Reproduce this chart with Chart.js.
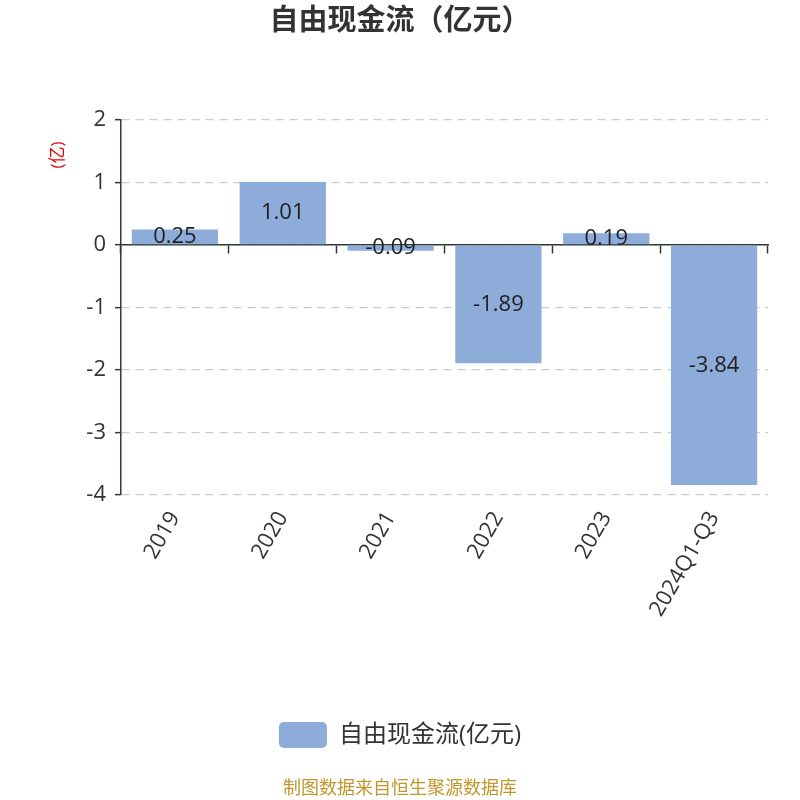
<!DOCTYPE html>
<html>
<head>
<meta charset="utf-8">
<script src="https://cdn.jsdelivr.net/npm/chart.js@4/dist/chart.umd.min.js"></script>
<style>
  html, body { margin: 0; padding: 0; background: #fff; }
  #wrap { width: 800px; height: 800px; }
</style>
</head>
<body>
<div id="wrap"><canvas id="chart" width="800" height="800"></canvas></div>
<script>
// --- Data ---
const categories = ['2019', '2020', '2021', '2022', '2023', '2024Q1-Q3'];
const freeCashFlow = [0.25, 1.01, -0.09, -1.89, 0.19, -3.84];
const yTicks = [2, 1, 0, -1, -2, -3, -4];
const seriesName = '自由现金流(亿元)';
const chartTitle = '自由现金流（亿元）';
const yUnit = '(亿)';
const footerText = '制图数据来自恒生聚源数据库';

const FONT = '"Open Sans", "Noto Sans CJK SC", sans-serif';
const BAR_COLOR = '#8eacda';

// value labels in the middle of each bar
const barLabels = {
    id: 'barLabels',
    afterDatasetsDraw(chart) {
        const ctx = chart.ctx;
        const meta = chart.getDatasetMeta(0);
        ctx.save();
        ctx.font = '22px ' + FONT;
        ctx.fillStyle = '#1f1f1f';
        ctx.textAlign = 'center';
        ctx.textBaseline = 'middle';
        meta.data.forEach((bar, i) => {
            const { x, y, base } = bar.getProps(['x', 'y', 'base'], true);
            ctx.fillText(freeCashFlow[i].toFixed(2), x, (y + base) / 2);
        });
        ctx.restore();
    }
};

// unit label and source footer
const extraText = {
    id: 'extraText',
    afterDraw(chart) {
        const ctx = chart.ctx;
        ctx.save();
        ctx.fillStyle = '#e60000';
        ctx.font = '17px ' + FONT;
        ctx.textAlign = 'center';
        ctx.textBaseline = 'middle';
        ctx.translate(58, 155);
        ctx.rotate(-Math.PI / 2);
        ctx.fillText(yUnit, 0, 0);
        ctx.restore();

        ctx.save();
        ctx.fillStyle = '#c4962c';
        ctx.font = '18px ' + FONT;
        ctx.textAlign = 'center';
        ctx.textBaseline = 'middle';
        ctx.fillText(footerText, 400, 789);
        ctx.restore();
    }
};

new Chart(document.getElementById('chart'), {
    type: 'bar',
    data: {
        labels: categories,
        datasets: [{
            label: seriesName,
            data: freeCashFlow,
            backgroundColor: BAR_COLOR,
            borderWidth: 0,
            barPercentage: 0.8,
            categoryPercentage: 1.0,
            xAxisID: 'x',
            yAxisID: 'y'
        }]
    },
    options: {
        responsive: false,
        animation: false,
        devicePixelRatio: 1,
        // equal side padding keeps title and legend centred on the canvas
        layout: { padding: { left: 32, right: 32, top: 0, bottom: 42 } },
        plugins: {
            title: {
                display: true,
                text: chartTitle,
                color: '#333',
                font: { family: FONT, size: 29, weight: 'bold' },
                padding: { top: 4, bottom: 81.2 }
            },
            legend: {
                display: true,
                position: 'bottom',
                labels: {
                    color: '#333',
                    font: { family: FONT, size: 24 },
                    boxWidth: 48,
                    boxHeight: 26,
                    padding: 10,
                    useBorderRadius: true,
                    borderRadius: 5
                }
            },
            tooltip: { enabled: false }
        },
        scales: {
            x: {
                type: 'category',
                position: 'bottom',
                offset: true,
                grid: { display: false },
                border: { display: false },
                ticks: {
                    color: '#333',
                    font: { family: FONT, size: 22 },
                    minRotation: 60,
                    maxRotation: 60,
                    padding: 4,
                    autoSkip: false
                },
                afterFit(scale) { scale.height = 217; }
            },
            x0: {
                type: 'category',
                position: { y: 0 },
                offset: true,
                grid: {
                    display: true,
                    offset: true,
                    drawOnChartArea: false,
                    drawTicks: true,
                    tickLength: 8,
                    tickColor: '#2f3a34',
                    tickWidth: 1.5
                },
                border: { display: true, color: '#2f3a34', width: 1.5 },
                ticks: { display: false },
                afterFit(scale) { scale.height = 0; }
            },
            y: {
                min: -4,
                max: 2,
                afterBuildTicks(scale) {
                    scale.ticks = yTicks.map(v => ({ value: v }));
                },
                grid: {
                    color: '#c3d0c8',
                    lineWidth: 1.3,
                    tickColor: '#2f3a34',
                    tickLength: 6,
                    tickWidth: 1.5,
                    tickBorderDash: []
                },
                border: { display: true, color: '#2f3a34', width: 1.5, dash: [8, 6] },
                ticks: {
                    color: '#333',
                    font: { family: FONT, size: 22 },
                    padding: 9
                },
                afterFit(scale) { scale.width = 89; }
            }
        }
    },
    plugins: [barLabels, extraText]
});
</script>
</body>
</html>
